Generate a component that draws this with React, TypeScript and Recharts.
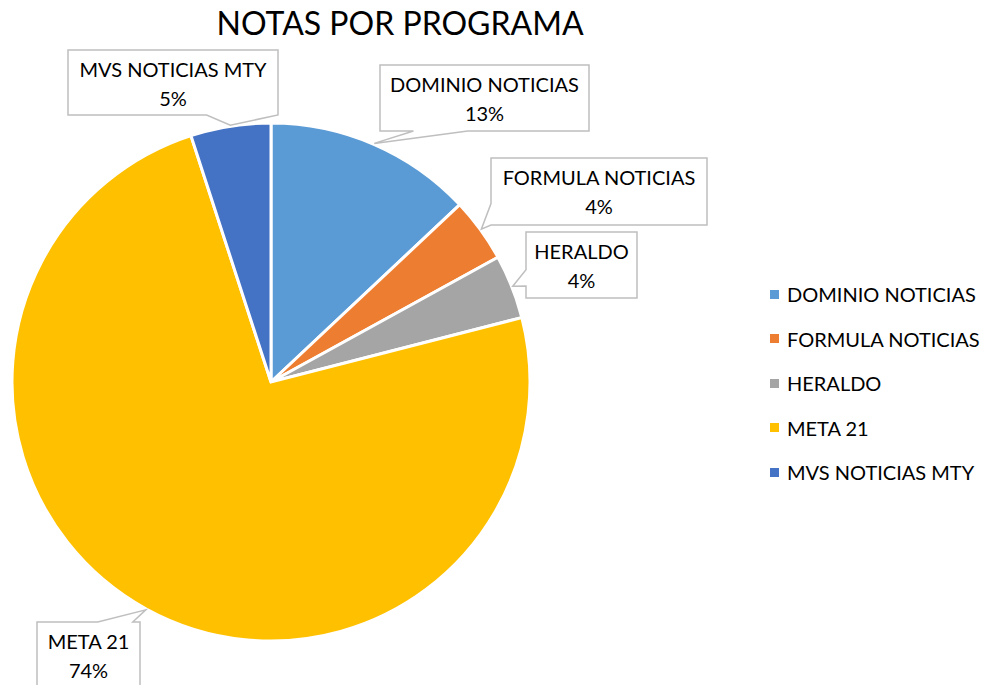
import React from 'react';
import { PieChart, Pie, Cell, Legend } from 'recharts';

const programs = ['DOMINIO NOTICIAS', 'FORMULA NOTICIAS', 'HERALDO', 'META 21', 'MVS NOTICIAS MTY'];
const shares = [13, 4, 4, 74, 5];
const colors = ['#5B9BD5', '#ED7D31', '#A5A5A5', '#FFC000', '#4472C4'];

const pieData = programs.map((name, i) => ({ name, value: shares[i] }));

// callout boxes: where each label box sits and which edge the pointer leaves from
const callouts = [
  { x: 380, y: 65, w: 209, h: 66, side: 'bottom', base: [0.16, 0.42] },
  { x: 491, y: 158, w: 216, h: 67, side: 'left', base: [0.68, 1] },
  { x: 526, y: 232, w: 111, h: 66, side: 'left', base: [0.57, 0.82] },
  { x: 37, y: 622, w: 103, h: 66, side: 'top', base: [0.59, 0.93] },
  { x: 68, y: 50, w: 210, h: 65, side: 'bottom', base: [0.66, 1] },
];

const FONT = 'Lato, "Noto Sans", sans-serif';
const RAD = Math.PI / 180;

function calloutPath(c: any, tx: number, ty: number) {
  const { x, y, w, h, side, base } = c;
  const r = x + w, b = y + h;
  if (side === 'bottom') {
    const a = x + w * base[0], e = x + w * base[1];
    return `M${x},${y} L${r},${y} L${r},${b} L${e},${b} L${tx},${ty} L${a},${b} L${x},${b} Z`;
  }
  if (side === 'top') {
    const a = x + w * base[0], e = x + w * base[1];
    return `M${x},${b} L${x},${y} L${a},${y} L${tx},${ty} L${e},${y} L${r},${y} L${r},${b} Z`;
  }
  const a = y + h * base[0], e = y + h * base[1];
  return `M${x},${y} L${r},${y} L${r},${b} L${x},${b} L${x},${e} L${tx},${ty} L${x},${a} Z`;
}

const renderCallout = (props: any) => {
  const { cx, cy, midAngle, outerRadius, index, percent, name } = props;
  const c = callouts[index];
  const tx = cx + (outerRadius + 1) * Math.cos(-midAngle * RAD);
  const ty = cy + (outerRadius + 1) * Math.sin(-midAngle * RAD);
  const mx = c.x + c.w / 2;
  return (
    <g key={`callout-${index}`}>
      <path d={calloutPath(c, tx, ty)} fill="#fff" stroke="#BFBFBF" strokeWidth={1.5} />
      <text x={mx} y={c.y + 27} textAnchor="middle" fontFamily={FONT} fontSize={20} fill="#000">{name}</text>
      <text x={mx} y={c.y + 56} textAnchor="middle" fontFamily={FONT} fontSize={20} fill="#000">
        {`${Math.round(percent * 100)}%`}
      </text>
    </g>
  );
};

const renderLegend = () => (
  <div style={{ fontFamily: FONT, fontSize: 20, color: '#000' }}>
    {programs.map((p, i) => (
      <div key={p} style={{ display: 'flex', alignItems: 'center', height: 44.5 }}>
        <span style={{ width: 9, height: 9, background: colors[i], marginRight: 8, display: 'inline-block' }} />
        <span>{p}</span>
      </div>
    ))}
  </div>
);

export default function App() {
  return (
    <div style={{ position: 'absolute', left: 0, top: 0, width: 986, height: 685, background: '#fff', overflow: 'hidden' }}>
      <div style={{ position: 'absolute', left: 0, top: 3, width: 800, textAlign: 'center', fontFamily: FONT, fontSize: 32, color: '#000' }}>
        NOTAS POR PROGRAMA
      </div>
      <PieChart width={986} height={685} margin={{ top: 0, right: 0, bottom: 0, left: 0 }} style={{ position: 'absolute', left: 0, top: 0 }}>
        <Pie
          data={pieData}
          dataKey="value"
          nameKey="name"
          cx={271}
          cy={382}
          outerRadius={259}
          startAngle={90}
          endAngle={-270}
          stroke="#fff"
          strokeWidth={3}
          label={renderCallout}
          labelLine={false}
          isAnimationActive={false}
        >
          {pieData.map((d, i) => (
            <Cell key={`cell-${i}`} fill={colors[i]} />
          ))}
        </Pie>
        <Legend content={renderLegend} wrapperStyle={{ position: 'absolute', left: 770, top: 272, width: 216 }} />
      </PieChart>
    </div>
  );
}
